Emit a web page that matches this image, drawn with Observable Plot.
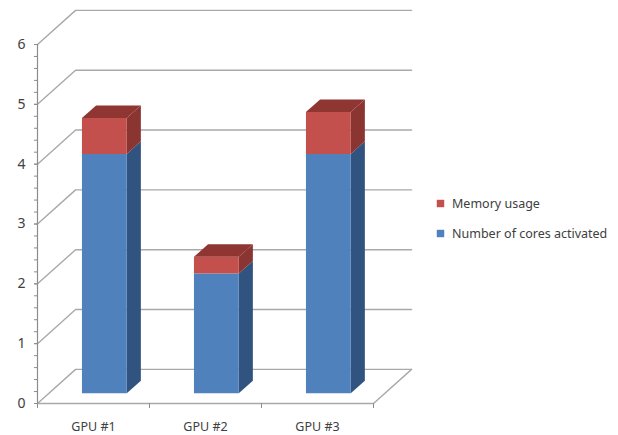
<!DOCTYPE html>
<html>
<head>
<meta charset="utf-8">
<script src="https://cdn.jsdelivr.net/npm/d3@7"></script>
<script src="https://cdn.jsdelivr.net/npm/@observablehq/plot@0.6"></script>
<style>
  html, body { margin: 0; padding: 0; background: #fff; }
  svg { display: block; }
</style>
</head>
<body>
<div id="chart"></div>
<script>
// Stacked column chart with a 3D-style box look.
const gpus = ["GPU #1", "GPU #2", "GPU #3"];
const coresActivated = [4, 2, 4];
const memoryUsage = [0.6, 0.28, 0.7];
const valueTicks = [0, 1, 2, 3, 4, 5, 6];
const legendSeries = ["Memory usage", "Number of cores activated"];

const seriesColors = {
  cores: {front: "#4f81bd", side: "#30537f"},
  memory: {front: "#c3504d", side: "#8a3532", top: "#8f3532"}
};

// Oblique projection: depth 0 is the front of the floor, depth 1 the back wall.
const shearX = 0.34;   // category widths per unit of depth
const shearY = 0.57;   // value units per unit of depth
const px = (c, depth) => c + depth * shearX;
const py = (v, depth) => v + depth * shearY;

const barCenter = 0.495, barHalf = 0.2, barFront = 0.3, barBack = 0.67;

// Wall grid: up the side wall, then across the back wall.
const gridPoints = valueTicks.flatMap((v) => [
  {level: v, x: px(0, 0), y: py(v, 0)},
  {level: v, x: px(0, 1), y: py(v, 1)},
  {level: v, x: px(3, 1), y: py(v, 1)}
]);
const floorEdge = [
  {x: px(3, 0), y: py(0, 0)},
  {x: px(3, 1), y: py(0, 1)}
];

// Every bar face is a closed polygon in data space.
const faces = [];
function addBox(id, i, v0, v1, colors, withTop) {
  const a = i + barCenter - barHalf, b = i + barCenter + barHalf;
  const face = (name, fill, corners) => corners.forEach(([c, v, d], k) =>
    faces.push({key: `${id}-${i}-${name}`, fill, order: k, x: px(c, d), y: py(v, d)}));
  face("side", colors.side, [[b, v0, barFront], [b, v0, barBack], [b, v1, barBack], [b, v1, barFront]]);
  face("front", colors.front, [[a, v0, barFront], [b, v0, barFront], [b, v1, barFront], [a, v1, barFront]]);
  if (withTop) {
    face("top", colors.top, [[a, v1, barFront], [b, v1, barFront], [b, v1, barBack], [a, v1, barBack]]);
  }
}
gpus.forEach((_, i) => {
  addBox("cores", i, 0, coresActivated[i], seriesColors.cores, false);
  addBox("memory", i, coresActivated[i], coresActivated[i] + memoryUsage[i], seriesColors.memory, true);
});

const gridColor = "#a9a9a9";
const axisColor = "#8c8c8c";
const textColor = "#404040";
const font = "'Noto Sans', sans-serif";

const legendMarks = legendSeries.flatMap((name, i) => {
  const rowY = 159 + i * 30;
  const fill = i === 0 ? seriesColors.memory.front : seriesColors.cores.front;
  return [
    Plot.dot([name], {frameAnchor: "top-left", dx: 403, dy: rowY, symbol: "square", r: 4.2, fill}),
    Plot.text([name], {frameAnchor: "top-left", lineAnchor: "middle", dx: 414.5, dy: rowY, text: (d) => d,
      textAnchor: "start", fontSize: 12.5, fill: textColor, fontFamily: font})
  ];
});

const chart = Plot.plot({
  width: 618,
  height: 435,
  marginLeft: 37,
  marginRight: 245,
  marginTop: 44,
  marginBottom: 32,
  style: {background: "#fff", fontFamily: font},
  x: {domain: [0, 3]},
  y: {domain: [0, 6]},
  marks: [
    Plot.line(gridPoints, {x: "x", y: "y", z: "level", stroke: gridColor, strokeWidth: 1.4, curve: "linear"}),
    Plot.line(floorEdge, {x: "x", y: "y", stroke: gridColor, strokeWidth: 1.4}),
    Plot.ruleX([0], {y1: 0, y2: 6, stroke: axisColor, strokeWidth: 1.2}),
    Plot.ruleY([0], {x1: 0, x2: 3, stroke: gridColor, strokeWidth: 1.4}),
    Plot.axisY({ticks: d3.range(0, 31).map((k) => k / 5), tickSize: 3, text: null, stroke: axisColor, label: null}),
    Plot.axisY({ticks: valueTicks, tickSize: 3, tickPadding: 9, tickFormat: "d", fontSize: 14, fill: textColor, stroke: axisColor, label: null}),
    Plot.axisX({ticks: [0, 1, 2, 3], tickSize: 5, text: null, stroke: axisColor, label: null}),
    Plot.axisX({ticks: [0.5, 1.5, 2.5], tickSize: 0, tickPadding: 19, tickFormat: (d) => gpus[Math.floor(d)],
      fontSize: 12.5, fill: textColor, label: null}),
    Plot.line(faces, {x: "x", y: "y", z: "key", fill: "fill", stroke: "none", curve: "linear-closed"}),
    ...legendMarks
  ]
});
document.getElementById("chart").append(chart);
</script>
</body>
</html>
